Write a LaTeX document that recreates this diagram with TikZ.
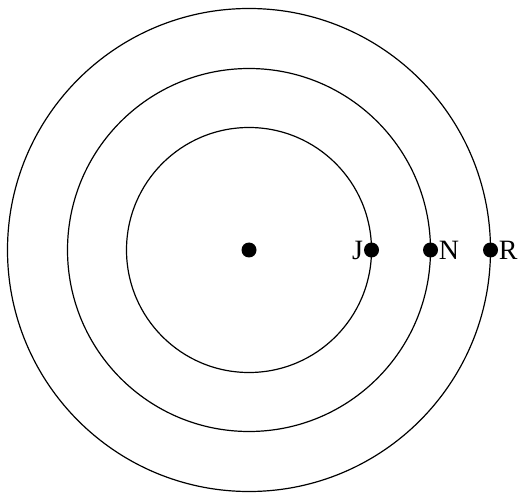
\documentclass[tikz,border=0pt]{standalone}
\usepackage{fontspec}
\setmainfont{Liberation Serif}
\usepackage{tikz}

\begin{document}
\begin{tikzpicture}[x=1pt,y=1pt,
  dot/.style={circle, fill=black, inner sep=0pt, minimum size=15pt},
  lbl/.style={font=\fontsize{28}{28}\selectfont, inner sep=0.5pt}]
\useasboundingbox (0,0) rectangle (524,493);
% circles
\coordinate (o) at (249,243);
\draw[line width=1.2pt] (o) circle (122.5);
\draw[line width=1.2pt] (o) circle (181.5);
\draw[line width=1.2pt] (o) circle (241.5);
% points
\node[dot] (c) at (o) {};
\node[dot] (pj) at (371.5,243) {};
\node[dot] (pn) at (430.5,243) {};
\node[dot] (pr) at (490.5,243) {};
\node[lbl, left] (j) at (pj.west) {J};
\node[lbl, right] (n) at (pn.east) {N};
\node[lbl, right] (r) at (pr.east) {R};
\end{tikzpicture}
\end{document}
